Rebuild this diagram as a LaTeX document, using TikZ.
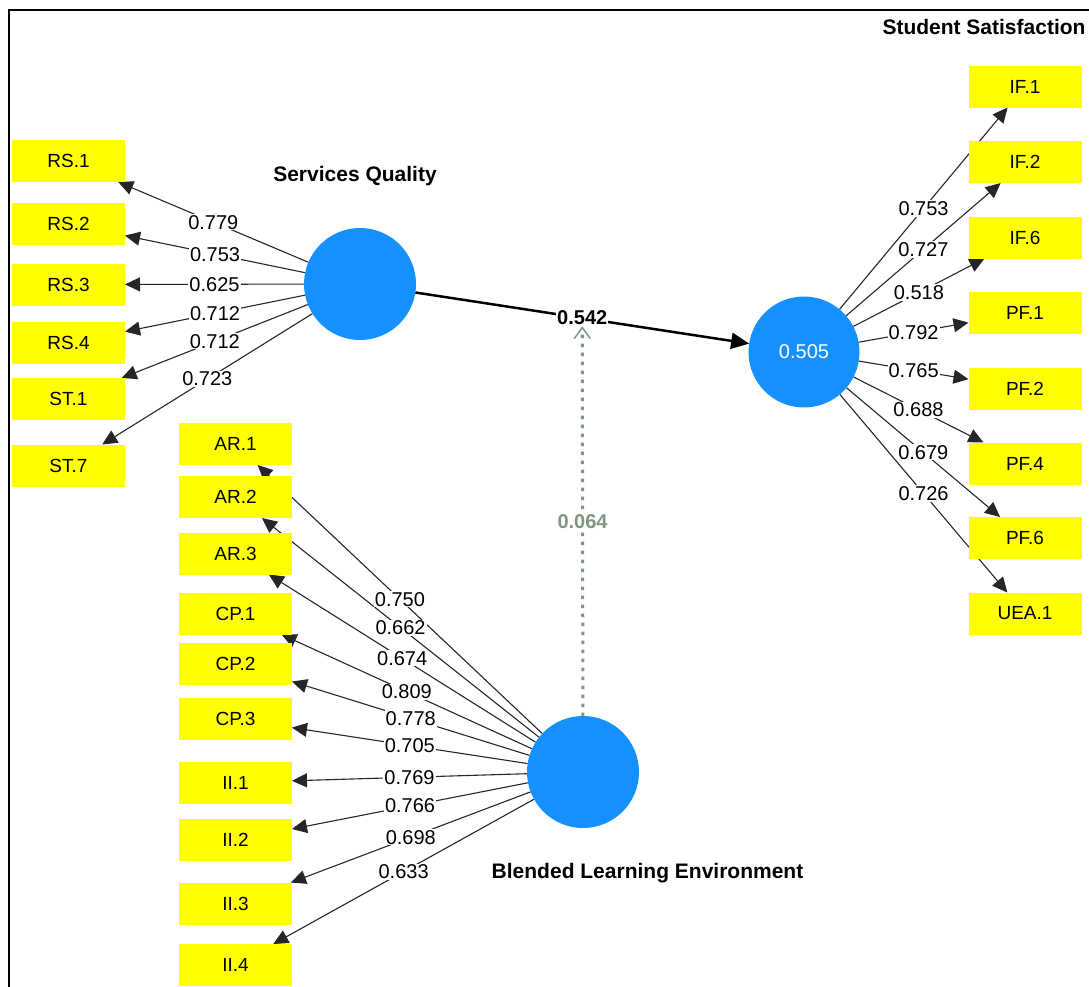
\documentclass[tikz,border=0pt]{standalone}
\usepackage{fontspec}
\setmainfont{Liberation Sans}
\usetikzlibrary{arrows.meta}
\pgfdeclarelayer{lines}
\pgfsetlayers{lines,main}

\definecolor{lvblue}{RGB}{20,145,255}
\definecolor{indyellow}{RGB}{255,255,0}
\definecolor{modgray}{RGB}{128,150,128}

\begin{document}
\begin{tikzpicture}[x=1pt,y=-1pt,
  ind/.style={fill=indyellow, minimum width=113pt, minimum height=42pt,
    inner sep=0pt, outer sep=0pt, font=\fontsize{19}{22}\selectfont},
  lv/.style={circle, fill=lvblue, minimum size=112pt, inner sep=0pt, outer sep=0pt},
  lvtitle/.style={font=\fontsize{21}{24}\selectfont\bfseries},
  load/.style={-{Triangle[length=15pt,width=14pt]}, line width=1.1pt, black!85},
  wt/.style={fill=white, inner sep=1pt, font=\fontsize{20}{22}\selectfont},
]
\useasboundingbox (0,0) rectangle (1089,986);

% frame
\draw[line width=2pt] (8.5,990) -- (8.5,9.5) -- (1092,9.5);

% latent variables
\node[lv] (sq)  at (360,284) {};
\node[lv] (ble) at (583,772) {};
\node[lv, minimum size=111pt, text=white, font=\fontsize{20}{22}\selectfont] (ss) at (804,352) {0.505};

\node[lvtitle] (tsq)  at (355,176) {Services Quality};
\node[lvtitle] (tble) at (647.5,873) {Blended Learning Environment};
\node[lvtitle] (tss)  at (984,27) {Student Satisfaction};

% indicators of Services Quality
\node[ind] (rs1) at (68.5,161)   {RS.1};
\node[ind] (rs2) at (68.5,224)   {RS.2};
\node[ind] (rs3) at (68.5,284.5) {RS.3};
\node[ind] (rs4) at (68.5,343)   {RS.4};
\node[ind] (st1) at (68.5,399)   {ST.1};
\node[ind] (st7) at (68.5,465.5) {ST.7};

% indicators of Blended Learning Environment
\node[ind] (ar1) at (235.5,444)   {AR.1};
\node[ind] (ar2) at (235.5,497)   {AR.2};
\node[ind] (ar3) at (235.5,553.5) {AR.3};
\node[ind] (cp1) at (235.5,613.5) {CP.1};
\node[ind] (cp2) at (235.5,664)   {CP.2};
\node[ind] (cp3) at (235.5,719)   {CP.3};
\node[ind] (ii1) at (235.5,782.5) {II.1};
\node[ind] (ii2) at (235.5,840)   {II.2};
\node[ind] (ii3) at (235.5,903.5) {II.3};
\node[ind] (ii4) at (235.5,965)   {II.4};

% indicators of Student Satisfaction
\node[ind] (if1)  at (1025,86.5)  {IF.1};
\node[ind] (if2)  at (1025,162)   {IF.2};
\node[ind] (if6)  at (1025,237.5) {IF.6};
\node[ind] (pf1)  at (1025,312.5) {PF.1};
\node[ind] (pf2)  at (1025,388.5) {PF.2};
\node[ind] (pf4)  at (1025,463.5) {PF.4};
\node[ind] (pf6)  at (1025,538)   {PF.6};
\node[ind] (uea1) at (1025,613.5) {UEA.1};

% outer loadings
\foreach \src/\n/\v in {sq/rs1/0.779, sq/rs2/0.753, sq/rs3/0.625, sq/rs4/0.712, sq/st1/0.712, sq/st7/0.723,
  ble/ar1/0.750, ble/ar2/0.662, ble/ar3/0.674, ble/cp1/0.809, ble/cp2/0.778,
  ble/cp3/0.705, ble/ii1/0.769, ble/ii2/0.766, ble/ii3/0.698, ble/ii4/0.633,
  ss/if1/0.753, ss/if2/0.727, ss/if6/0.518, ss/pf1/0.792, ss/pf2/0.765,
  ss/pf4/0.688, ss/pf6/0.679, ss/uea1/0.726}{
  \begin{pgfonlayer}{lines}
    \draw[load] (\src) -- (\n);
  \end{pgfonlayer}
  \path (\src) -- node[wt] {\v} (\n);
}

% structural path
\begin{pgfonlayer}{lines}
  \draw[line width=2.5pt, -{Triangle[length=18pt,width=16pt]}] (sq) -- (ss);
\end{pgfonlayer}
\path (sq) -- node[wt, font=\fontsize{20}{22}\selectfont\bfseries] (l542) {0.542} (ss);

% moderating effect
\begin{pgfonlayer}{lines}
  \draw[modgray, line width=3pt, dash pattern=on 3.5pt off 5.5pt,
    -{Straight Barb[length=11pt,width=16pt,line width=1.5pt]}] (ble) -- (l542);
\end{pgfonlayer}
\path (ble) -- node[wt, text=modgray, font=\fontsize{20}{22}\selectfont\bfseries] {0.064} (l542);

\end{tikzpicture}
\end{document}
